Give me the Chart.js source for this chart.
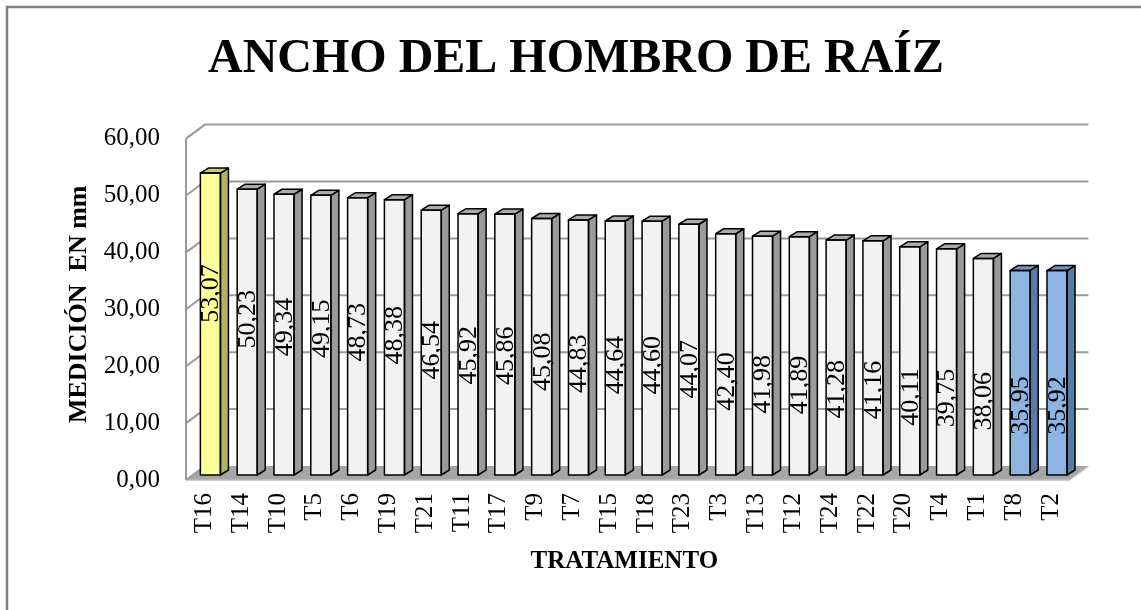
<!DOCTYPE html>
<html>
<head>
<meta charset="utf-8">
<script src="https://cdn.jsdelivr.net/npm/chart.js@4.4.1/dist/chart.umd.min.js"></script>
<style>
  html, body { margin: 0; padding: 0; background: #ffffff; }
  #wrap { width: 1141px; height: 610px; position: relative; }
</style>
</head>
<body>
<div id="wrap"><canvas id="c" width="1141" height="610"></canvas></div>
<script>
// ---- data ----
const categories = ['T16','T14','T10','T5','T6','T19','T21','T11','T17','T9','T7','T15','T18','T23','T3','T13','T12','T24','T22','T20','T4','T1','T8','T2'];
const values = [53.07,50.23,49.34,49.15,48.73,48.38,46.54,45.92,45.86,45.08,44.83,44.64,44.60,44.07,42.40,41.98,41.89,41.28,41.16,40.11,39.75,38.06,35.95,35.92];
const yTicks = [0,10,20,30,40,50,60];
const chartTitle = 'ANCHO DEL HOMBRO DE RAÍZ';
const yTitle = 'MEDICIÓN  EN mm';
const xTitle = 'TRATAMIENTO';

// ---- styling ----
const FRONT = { hi: '#ffff99', lo: '#8db4e2', mid: '#f2f2f2' };
const SIDE  = { hi: '#b3b35f', lo: '#5a7aa6', mid: '#9a9a9a' };
const TOP   = { hi: '#c9c978', lo: '#6f93c3', mid: '#ababab' };
function kindOf(i) {
  const max = Math.max(...values), min2 = [...values].sort((a,b)=>a-b)[1];
  if (values[i] === max) return 'hi';
  if (values[i] <= min2) return 'lo';
  return 'mid';
}
const frontColors = values.map((v,i) => FRONT[kindOf(i)]);

const BAR_D = { dx: 8, dy: -5 };     // bar depth
const FRONT_P = { dx: -6, dy: 5 };   // front plane offset from bar plane
const BACK_P = { dx: 13, dy: -9 };   // back plane offset from bar plane
const SERIF = "'Liberation Serif', 'Times New Roman', serif";

const fmt = v => v.toFixed(2).replace('.', ',');

const threeD = {
  id: 'threeD',
  beforeDraw(chart) {
    const ctx = chart.ctx;
    ctx.save();
    ctx.fillStyle = '#ffffff';
    ctx.fillRect(0, 0, chart.width, chart.height);
    ctx.strokeStyle = '#808080';
    ctx.lineWidth = 2.5;
    ctx.beginPath();
    ctx.moveTo(7, chart.height);
    ctx.lineTo(7, 7);
    ctx.lineTo(chart.width, 7);
    ctx.stroke();
    ctx.restore();
  },
  beforeDatasetsDraw(chart) {
    const ctx = chart.ctx;
    const y = chart.scales.y;
    const L = chart.chartArea.left, R = chart.chartArea.right;
    const fL = L + FRONT_P.dx, bL = L + BACK_P.dx, bR = R + BACK_P.dx, fR = R + FRONT_P.dx;
    ctx.save();
    const f0 = y.getPixelForValue(0) + FRONT_P.dy;
    const b0 = y.getPixelForValue(0) + BACK_P.dy;
    ctx.fillStyle = '#a6a6a6';
    ctx.beginPath();
    ctx.moveTo(fL, f0); ctx.lineTo(fR, f0); ctx.lineTo(bR, b0); ctx.lineTo(bL, b0);
    ctx.closePath(); ctx.fill();
    ctx.strokeStyle = '#bdbdbd'; ctx.lineWidth = 1.5;
    ctx.beginPath(); ctx.moveTo(fL, f0); ctx.lineTo(fR, f0); ctx.lineTo(bR, b0); ctx.stroke();
    ctx.strokeStyle = '#9a9a9a';
    ctx.lineWidth = 2;
    yTicks.forEach(t => {
      const yp = y.getPixelForValue(t);
      if (t > 0) {
        ctx.beginPath();
        ctx.moveTo(fL, yp + FRONT_P.dy);
        ctx.lineTo(bL, yp + BACK_P.dy);
        ctx.lineTo(bR, yp + BACK_P.dy);
        ctx.stroke();
      }
    });
    ctx.beginPath();
    ctx.moveTo(fL, y.getPixelForValue(0) + FRONT_P.dy);
    ctx.lineTo(fL, y.getPixelForValue(60) + FRONT_P.dy);
    ctx.stroke();
    ctx.beginPath();
    ctx.moveTo(fL, f0); ctx.lineTo(bL, b0); ctx.stroke();
    ctx.restore();
  },
  afterDatasetsDraw(chart) {
    const ctx = chart.ctx;
    const meta = chart.getDatasetMeta(0);
    const y = chart.scales.y;
    ctx.save();
    ctx.lineJoin = 'round';
    meta.data.forEach((bar, i) => {
      const p = bar.getProps(['x','y','base','width'], true);
      const l = p.x - p.width/2, r = p.x + p.width/2, t = p.y, b = p.base;
      const k = kindOf(i);
      ctx.lineWidth = 1.5;
      ctx.strokeStyle = '#000';
      ctx.fillStyle = SIDE[k];
      ctx.beginPath();
      ctx.moveTo(r, t); ctx.lineTo(r + BAR_D.dx, t + BAR_D.dy);
      ctx.lineTo(r + BAR_D.dx, b + BAR_D.dy); ctx.lineTo(r, b); ctx.closePath();
      ctx.fill(); ctx.stroke();
      ctx.fillStyle = TOP[k];
      ctx.beginPath();
      ctx.moveTo(l, t); ctx.lineTo(l + BAR_D.dx, t + BAR_D.dy);
      ctx.lineTo(r + BAR_D.dx, t + BAR_D.dy); ctx.lineTo(r, t); ctx.closePath();
      ctx.fill(); ctx.stroke();
      ctx.strokeRect(l, t, r - l, b - t);
      const v = values[i];
      const ratio = Math.min(0.62, Math.max(0.34, 0.34 + (v - 40) * 0.02));
      const cy = y.getPixelForValue(v * ratio);
      ctx.save();
      ctx.translate(p.x, cy);
      ctx.rotate(-Math.PI / 2);
      ctx.fillStyle = '#000';
      ctx.font = '26px ' + SERIF;
      ctx.textAlign = 'center';
      ctx.textBaseline = 'middle';
      ctx.fillText(fmt(v), 0, 1);
      ctx.restore();
    });
    ctx.restore();
  }
};

new Chart(document.getElementById('c'), {
  type: 'bar',
  data: {
    labels: categories,
    datasets: [{
      data: values,
      backgroundColor: frontColors,
      borderColor: '#000',
      borderWidth: 0,
      barPercentage: 0.545,
      categoryPercentage: 1.0
    }]
  },
  options: {
    responsive: false,
    animation: false,
    events: [],
    layout: { padding: { left: 11, right: 0, top: 0, bottom: 0 } },
    plugins: {
      legend: { display: false },
      tooltip: { enabled: false },
      title: {
        display: true,
        text: chartTitle,
        color: '#000',
        font: { family: SERIF, size: 48, weight: 'bold', lineHeight: 1.2 },
        padding: { top: 31, bottom: 45 }
      }
    },
    scales: {
      x: {
        grid: { display: false, drawTicks: false },
        border: { display: false },
        ticks: {
          autoSkip: false, minRotation: 90, maxRotation: 90,
          padding: 18, labelOffset: -6,
          color: '#000', font: { family: SERIF, size: 25 }
        },
        title: {
          display: true, text: xTitle + '   ', color: '#000',
          font: { family: SERIF, size: 25, weight: 'bold', lineHeight: 1.2 },
          padding: { top: 0, bottom: 33 }
        },
        afterFit(s) { s.height = 135; }
      },
      y: {
        min: 0, max: 60,
        afterBuildTicks(s) { s.ticks = yTicks.map(v => ({ value: v })); },
        grid: { display: false, drawTicks: false },
        border: { display: false },
        ticks: {
          padding: 32, labelOffset: 5,
          color: '#000', font: { family: SERIF, size: 25 },
          callback: v => fmt(v)
        },
        title: {
          display: true, text: yTitle, color: '#000',
          font: { family: SERIF, size: 26, weight: 'bold', lineHeight: 1.2 },
          padding: { top: 53, bottom: 0 }
        },
        afterFit(s) { s.width = 181; }
      },
      yR: {
        position: 'right', display: true,
        grid: { display: false, drawTicks: false },
        border: { display: false },
        ticks: { display: false },
        afterFit(s) { s.width = 65.6; }
      }
    }
  },
  plugins: [threeD]
});
</script>
</body>
</html>
